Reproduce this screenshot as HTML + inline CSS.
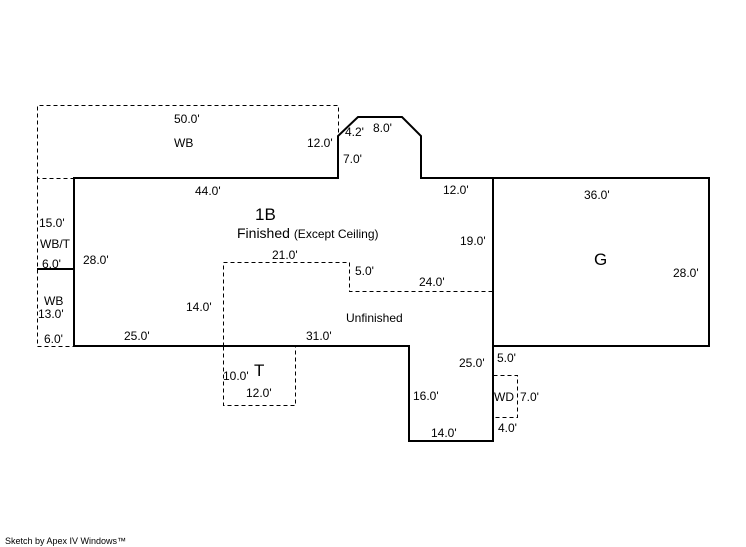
<!DOCTYPE html>
<html><head><meta charset="utf-8"><style>
html,body{margin:0;padding:0;background:#fff;}
svg{display:block;}
text{font-family:"Liberation Sans",Arial,sans-serif;font-size:12px;fill:#000;}
</style></head><body>
<svg width="746" height="547" viewBox="0 0 746 547" xmlns="http://www.w3.org/2000/svg">
<g fill="none" stroke="#000" stroke-width="1" stroke-dasharray="4,3" transform="translate(0.5,0.5)" shape-rendering="crispEdges">
<polyline points="74,178 37,178 37,105 338,105 338,136"/>
<polyline points="37,178 37,346 74,346"/>
<polyline points="223,346 223,262 349,262 349,291 493,291"/>
<polyline points="223,346 223,405 295,405 295,346"/>
<polyline points="493,375 517,375 517,417 493,417"/>
</g>
<g fill="none" stroke="#000" stroke-width="2">
<polygon points="74,178 338,178 338,136 358,117 402,117 421,136 421,178 493,178 493,441 409,441 409,346 74,346"/>
<rect x="493" y="178" width="216" height="168"/>
<line x1="37" y1="269" x2="74" y2="269"/>
</g>
<text x="174" y="123">50.0'</text>
<text x="174" y="147">WB</text>
<text x="307" y="147">12.0'</text>
<text x="345" y="136">4.2'</text>
<text x="373" y="132">8.0'</text>
<text x="343" y="163">7.0'</text>
<text x="195" y="195">44.0'</text>
<text x="443" y="194">12.0'</text>
<text x="584" y="199">36.0'</text>
<text x="255" y="220" style="font-size:17px">1B</text>
<text x="237" y="238" style="font-size:14px">Finished <tspan style="font-size:12px">(Except Ceiling)</tspan></text>
<text x="460" y="245">19.0'</text>
<text x="39" y="227">15.0'</text>
<text x="40" y="248">WB/T</text>
<text x="42" y="268">6.0'</text>
<text x="83" y="264">28.0'</text>
<text x="272" y="259">21.0'</text>
<text x="355" y="275">5.0'</text>
<text x="419" y="286">24.0'</text>
<text x="594" y="265" style="font-size:17px">G</text>
<text x="673" y="277">28.0'</text>
<text x="44" y="305">WB</text>
<text x="38" y="318">13.0'</text>
<text x="186" y="311">14.0'</text>
<text x="346" y="322">Unfinished</text>
<text x="44" y="343">6.0'</text>
<text x="124" y="340">25.0'</text>
<text x="306" y="340">31.0'</text>
<text x="459" y="367">25.0'</text>
<text x="497" y="362">5.0'</text>
<text x="223" y="380">10.0'</text>
<text x="254" y="376" style="font-size:17px">T</text>
<text x="246" y="397">12.0'</text>
<text x="413" y="400">16.0'</text>
<text x="494" y="401">WD</text>
<text x="520" y="401">7.0'</text>
<text x="498" y="432">4.0'</text>
<text x="431" y="437">14.0'</text>
<text x="5" y="544" style="font-size:9px">Sketch by Apex IV Windows™</text>
</svg>
</body></html>
